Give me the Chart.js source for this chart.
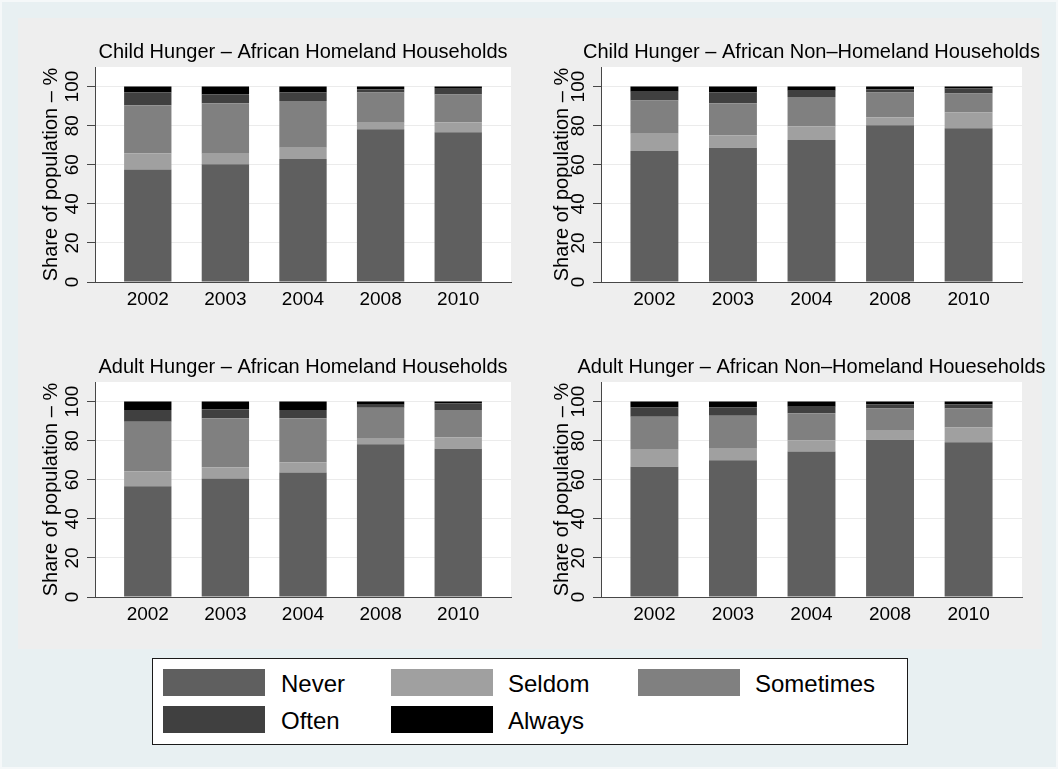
<!DOCTYPE html>
<html>
<head>
<meta charset="utf-8">
<title>Hunger by household type</title>
<script src="https://cdn.jsdelivr.net/npm/chart.js@4.4.1/dist/chart.umd.min.js"></script>
<style>
  html, body { margin: 0; padding: 0; }
  body {
    width: 1058px; height: 769px; position: relative; overflow: hidden;
    background: #f5f8f9;
    font-family: "Liberation Sans", Arial, Helvetica, sans-serif;
  }
  #frame { position: absolute; left: 2px; top: 2px; width: 1054px; height: 765px; background: #e8f0f2; }
  #graph { position: absolute; left: 18px; top: 18px; width: 1024px; height: 631px; background: #eeeeee; }
  canvas { position: absolute; left: 0; top: 0; }
  #legend {
    position: absolute; left: 152px; top: 658px; width: 754px; height: 85px;
    background: #ffffff; border: 1px solid #1a1a1a;
  }
  .key { position: absolute; width: 102px; height: 27px; }
  .lab { position: absolute; font-size: 24px; line-height: 27px; color: #000; white-space: nowrap; }
</style>
</head>
<body>
<div id="frame"></div>
<div id="graph"></div>
<canvas id="c1" width="1058" height="769"></canvas>
<canvas id="c2" width="1058" height="769"></canvas>
<canvas id="c3" width="1058" height="769"></canvas>
<canvas id="c4" width="1058" height="769"></canvas>
<div id="legend"></div>

<script>
// Survey years and y-axis ticks
const years = ['2002', '2003', '2004', '2008', '2010'];
const yTickValues = [0, 20, 40, 60, 80, 100];
const seriesNames = ['Never', 'Seldom', 'Sometimes', 'Often', 'Always'];

// Child hunger, African homeland households (% of population)
const childHomelandNever     = [57.6, 60.3, 62.9, 78.1, 76.6];
const childHomelandSeldom    = [ 8.2,  5.3,  5.8,  3.4,  5.1];
const childHomelandSometimes = [24.6, 25.9, 23.9, 15.4, 14.2];
const childHomelandOften     = [ 6.5,  4.4,  4.3,  1.7,  3.4];
const childHomelandAlways    = [ 3.1,  4.1,  3.1,  1.4,  0.7];

// Child hunger, African non-homeland households
const childNonHomelandNever     = [67.0, 68.7, 72.6, 80.2, 78.6];
const childNonHomelandSeldom    = [ 8.9,  6.3,  6.9,  4.1,  8.1];
const childNonHomelandSometimes = [16.9, 16.5, 15.2, 12.6,  9.7];
const childNonHomelandOften     = [ 4.5,  5.4,  3.2,  1.7,  2.6];
const childNonHomelandAlways    = [ 2.7,  3.1,  2.1,  1.4,  1.0];

// Adult hunger, African homeland households
const adultHomelandNever     = [56.7, 60.6, 63.7, 78.2, 75.8];
const adultHomelandSeldom    = [ 7.5,  5.8,  5.2,  3.2,  5.9];
const adultHomelandSometimes = [25.4, 25.1, 22.6, 15.4, 14.0];
const adultHomelandOften     = [ 6.1,  4.6,  4.2,  1.5,  3.3];
const adultHomelandAlways    = [ 4.3,  3.9,  4.3,  1.7,  1.0];

// Adult hunger, African non-homeland households
const adultNonHomelandNever     = [66.6, 70.0, 74.4, 80.4, 79.2];
const adultNonHomelandSeldom    = [ 8.7,  5.9,  5.8,  4.6,  7.5];
const adultNonHomelandSometimes = [16.9, 16.8, 13.8, 11.4,  9.7];
const adultNonHomelandOften     = [ 4.9,  4.4,  3.4,  2.1,  2.2];
const adultNonHomelandAlways    = [ 2.9,  2.9,  2.6,  1.5,  1.4];

// Fill shades for each response
const seriesColors = ['#5f5f5f', '#a0a0a0', '#808080', '#404040', '#000000'];

const FONT = '"Liberation Sans", Arial, Helvetica, sans-serif';
Chart.defaults.font.family = FONT;
Chart.defaults.color = '#000';

const PAGE_W = 1058, PAGE_H = 769;
const X_AXIS_H = 40;
const Y_TICK_LEN = 8;
const AXIS_COLOR = '#474747';
const GRID_COLOR = '#ebebeb';

// White plot background, panel title, rotated y labels
const panelText = {
  id: 'panelText',
  beforeDraw(chart) {
    const a = chart.chartArea, ctx = chart.ctx;
    ctx.save();
    ctx.fillStyle = '#ffffff';
    ctx.fillRect(a.left, a.top, a.right - a.left, a.bottom - a.top);
    ctx.restore();
  },
  afterDraw(chart, args, opts) {
    const ctx = chart.ctx, a = chart.chartArea, ys = chart.scales.y;
    ctx.save();
    ctx.fillStyle = '#000';
    ctx.textAlign = 'center';
    ctx.textBaseline = 'alphabetic';
    ctx.font = '20px ' + FONT;
    ctx.fillText(opts.title, (a.left + a.right) / 2, a.top - 9.5);

    ctx.save();
    ctx.translate(a.left - opts.yTitleGap, (a.top + a.bottom) / 2);
    ctx.rotate(-Math.PI / 2);
    ctx.fillText('Share of population \u2013 %', 0, 0);
    ctx.restore();

    ctx.font = '19px ' + FONT;
    ys.ticks.forEach(t => {
      const py = ys.getPixelForValue(t.value);
      ctx.save();
      ctx.translate(a.left - 17, py);
      ctx.rotate(-Math.PI / 2);
      ctx.fillText(String(t.value), 0, 0);
      ctx.restore();
    });
    ctx.restore();
  }
};

function makePanel(canvasId, box, title, yTitleGap, series) {
  const datasets = series.map((values, k) => ({
    label: seriesNames[k],
    data: values.map((v, i) => ({ x: i, y: v })),
    backgroundColor: seriesColors[k],
    borderWidth: 0,
    barPercentage: 0.61,
    categoryPercentage: 1.0
  }));
  return new Chart(document.getElementById(canvasId), {
    type: 'bar',
    data: { datasets },
    plugins: [panelText],
    options: {
      responsive: false,
      animation: false,
      devicePixelRatio: 1,
      layout: {
        padding: {
          left: box.left - Y_TICK_LEN,
          top: box.top,
          right: PAGE_W - box.right,
          bottom: PAGE_H - box.bottom - X_AXIS_H
        }
      },
      plugins: {
        legend: { display: false },
        title: { display: false },
        tooltip: { enabled: false },
        panelText: { title, yTitleGap }
      },
      scales: {
        x: {
          type: 'linear',
          offset: false,
          stacked: true,
          z: 1,
          min: -0.68,
          max: years.length - 1 + 0.68,
          afterBuildTicks: s => { s.ticks = years.map((_, i) => ({ value: i })); },
          afterFit: s => { s.height = X_AXIS_H; },
          grid: { display: false, drawTicks: false, offset: false },
          border: { display: true, color: AXIS_COLOR, width: 1 },
          ticks: {
            callback: v => years[v],
            font: { size: 19 },
            color: '#000',
            padding: 6,
            autoSkip: false,
            maxRotation: 0,
            minRotation: 0
          }
        },
        y: {
          stacked: true,
          min: 0,
          max: 110,
          afterBuildTicks: s => { s.ticks = yTickValues.map(v => ({ value: v })); },
          afterFit: s => { s.width = Y_TICK_LEN; },
          grid: {
            color: c => (c.tick && c.tick.value === 0) ? 'rgba(0,0,0,0)' : GRID_COLOR,
            tickColor: AXIS_COLOR,
            tickLength: Y_TICK_LEN,
            drawTicks: true,
            lineWidth: 1
          },
          border: { display: true, color: AXIS_COLOR, width: 1 },
          ticks: { display: false }
        }
      }
    }
  });
}

makePanel('c1', { left: 95, right: 511, top: 67, bottom: 282 },
  'Child Hunger \u2013 African Homeland Households', 38,
  [childHomelandNever, childHomelandSeldom, childHomelandSometimes, childHomelandOften, childHomelandAlways]);

makePanel('c2', { left: 601, right: 1022, top: 67, bottom: 282 },
  'Child Hunger \u2013 African Non\u2013Homeland Households', 33,
  [childNonHomelandNever, childNonHomelandSeldom, childNonHomelandSometimes, childNonHomelandOften, childNonHomelandAlways]);

makePanel('c3', { left: 95, right: 511, top: 382, bottom: 597 },
  'Adult Hunger \u2013 African Homeland Households', 38,
  [adultHomelandNever, adultHomelandSeldom, adultHomelandSometimes, adultHomelandOften, adultHomelandAlways]);

makePanel('c4', { left: 601, right: 1022, top: 382, bottom: 597 },
  'Adult Hunger \u2013 African Non\u2013Homeland Houeseholds', 33,
  [adultNonHomelandNever, adultNonHomelandSeldom, adultNonHomelandSometimes, adultNonHomelandOften, adultNonHomelandAlways]);

// Legend: two rows of swatches with labels
const legendSlots = [
  { key: [10, 10],  text: 128 },
  { key: [238, 10], text: 355 },
  { key: [485, 10], text: 602 },
  { key: [10, 47],  text: 128 },
  { key: [238, 47], text: 355 }
];
const legendEl = document.getElementById('legend');
seriesNames.forEach((name, k) => {
  const slot = legendSlots[k];
  const sw = document.createElement('div');
  sw.className = 'key';
  sw.style.left = slot.key[0] + 'px';
  sw.style.top = slot.key[1] + 'px';
  sw.style.background = seriesColors[k];
  legendEl.appendChild(sw);
  const lb = document.createElement('div');
  lb.className = 'lab';
  lb.style.left = slot.text + 'px';
  lb.style.top = (slot.key[1] + 1) + 'px';
  lb.textContent = name;
  legendEl.appendChild(lb);
});
</script>
</body>
</html>
